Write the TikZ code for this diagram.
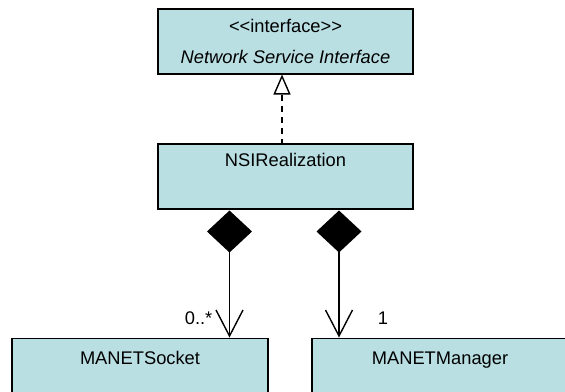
\documentclass[tikz,border=0pt]{standalone}
\usepackage{fontspec}
\setmainfont{Liberation Sans}
\usetikzlibrary{arrows.meta,shapes.geometric}
\definecolor{classfill}{RGB}{185,223,227}
\tikzset{
  classbox/.style={draw=black, line width=1.5pt, fill=classfill, rectangle, inner sep=0pt},
  txt/.style={inner sep=0pt, anchor=base, font=\fontsize{18.3}{22}\selectfont},
  realize/.style={line width=1.4pt, dash pattern=on 6pt off 5pt,
    -{Triangle[open, length=20pt, width=17pt, line width=1.4pt, fill=white]}},
  compose/.style={line width=1.4pt, {Diamond[length=42pt, width=45pt]}-},
  vhead/.style={line width=1.4pt, line join=miter},
}
\begin{document}
\begin{tikzpicture}[x=1pt, y=-1pt]
  \useasboundingbox (0,0) rectangle (565,391);
  \clip (0,0) rectangle (565,391);

  % interface
  \node[classbox, minimum width=255pt, minimum height=65pt] (nsi) at (285.5,41.5) {};
  \node[txt] (nsistereo) at (285.5,32) {{<}{<}interface{>}{>}};
  \node[txt, font=\fontsize{18.3}{22}\selectfont\itshape] (nsiname) at (285.5,63) {Network Service Interface};

  % realization
  \node[classbox, minimum width=255pt, minimum height=65pt] (real) at (285.5,176.5) {};
  \node[txt] (realname) at (285.5,166.7) {NSIRealization};

  % parts
  \node[classbox, minimum width=256pt, minimum height=80pt] (sock) at (140,378.7) {};
  \node[txt] (sockname) at (140,364) {MANETSocket};
  \node[classbox, minimum width=256pt, minimum height=80pt] (mgr) at (440,378.7) {};
  \node[txt] (mgrname) at (440,364) {MANETManager};

  % realization connector
  \coordinate (rtop) at (282,144.5);
  \coordinate (itop) at (282,74.5);
  \draw[realize] (rtop) -- (itop);

  % composition connectors with open V heads
  \coordinate (c1s) at (229.5,210.5);
  \coordinate (c1e) at (229.5,336);
  \coordinate (c2s) at (339,210.5);
  \coordinate (c2e) at (339,336);
  \draw[compose] (c1s) -- (c1e);
  \draw[compose] (c2s) -- (c2e);
  \draw[vhead] (c1e) ++(-13.5,-26) -- (c1e) -- ++(13.5,-26);
  \draw[vhead] (c2e) ++(-13.5,-26) -- (c2e) -- ++(13.5,-26);

  \node[txt, anchor=base east] (mult1) at (212.5,324) {0..*};
  \node[txt] (mult2) at (383,324) {1};
\end{tikzpicture}
\end{document}
